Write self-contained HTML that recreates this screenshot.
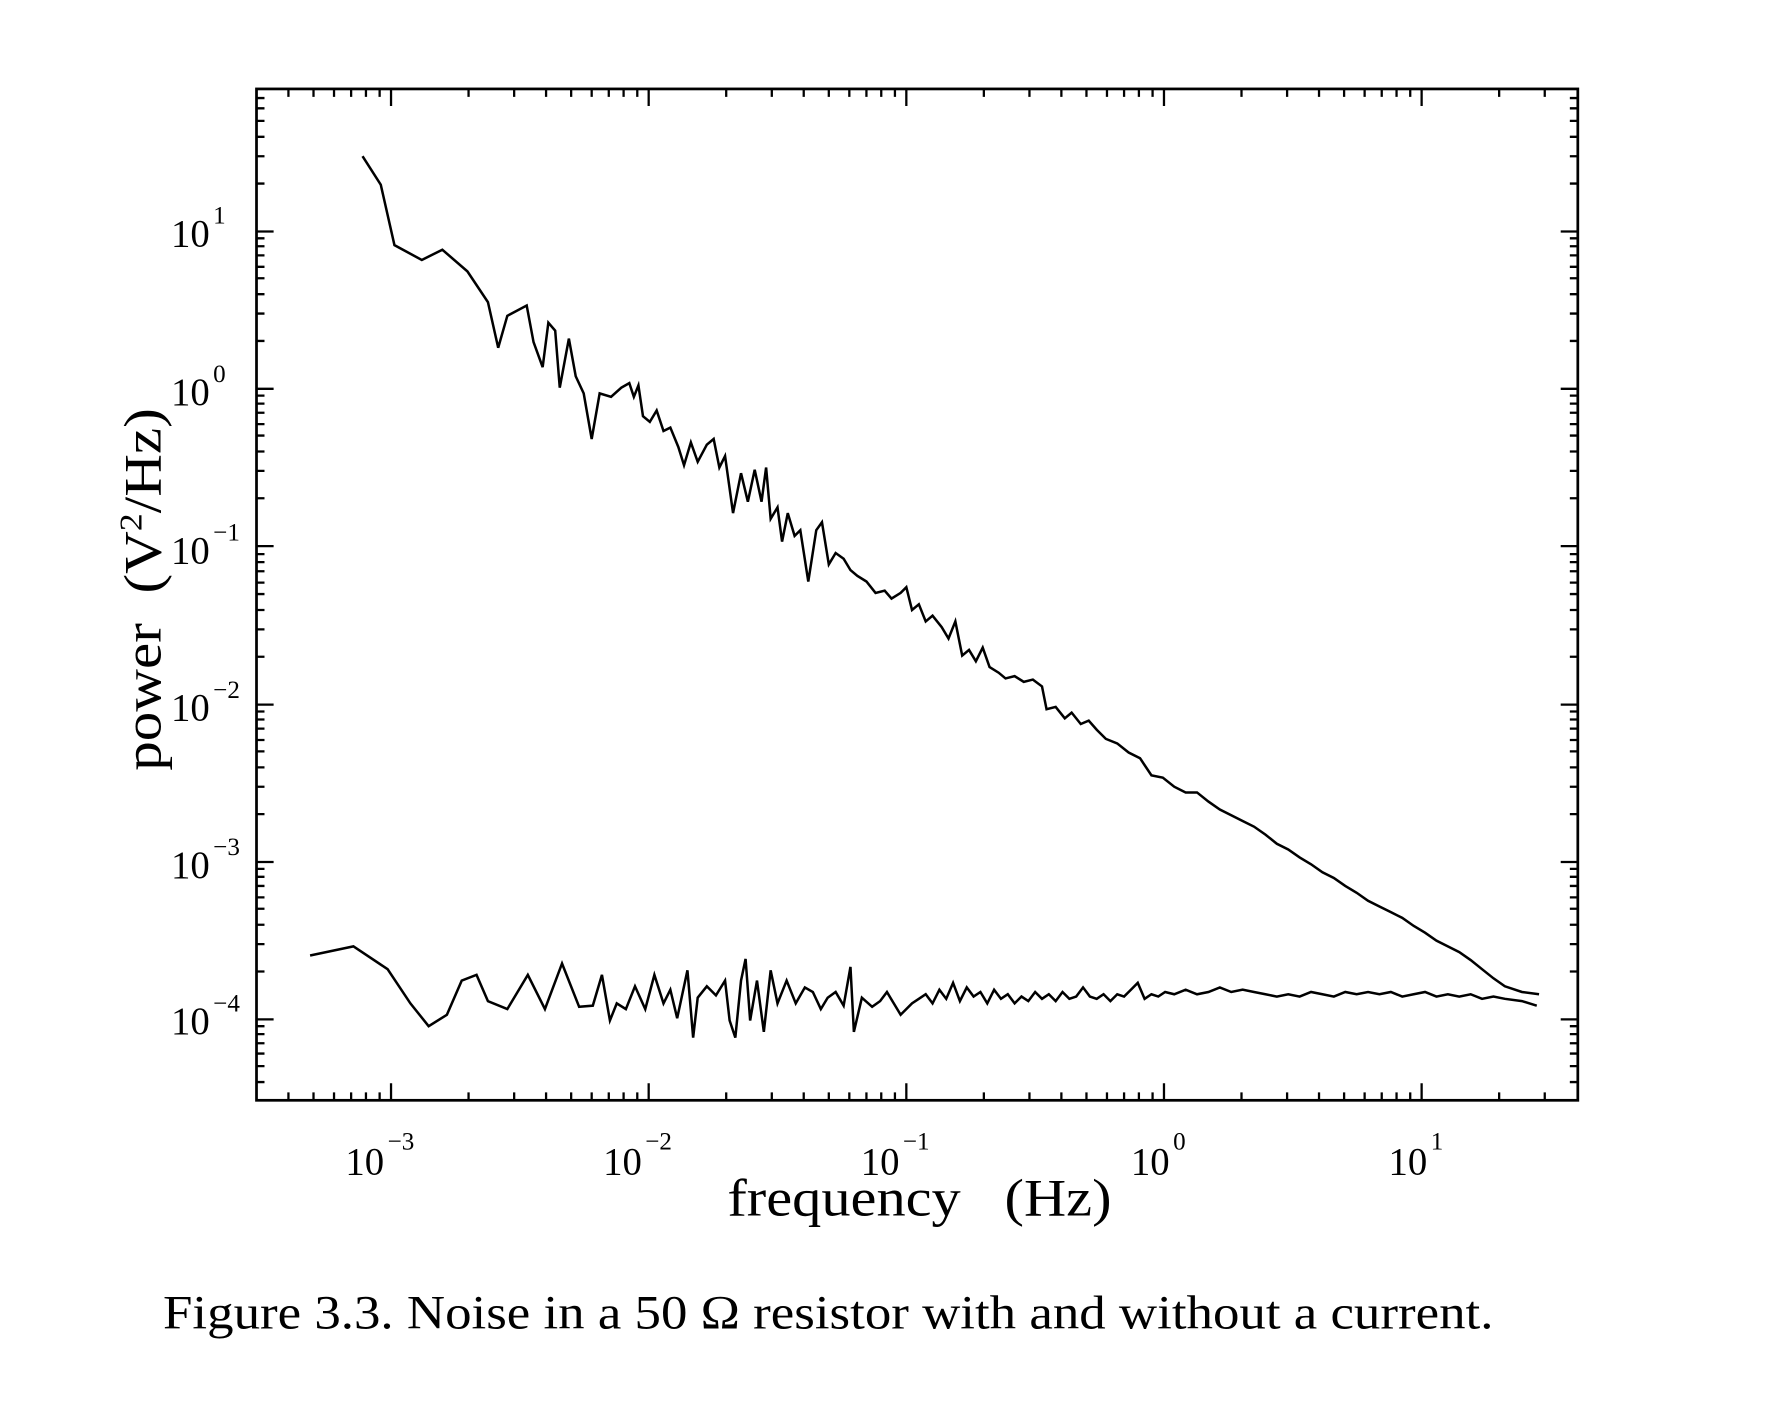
<!DOCTYPE html>
<html><head><meta charset="utf-8"><style>
html,body{margin:0;padding:0;background:#fff;}
svg{display:block;}
text{font-family:"Liberation Serif",serif;fill:#000;}
</style></head><body>
<svg width="1791" height="1415" viewBox="0 0 1571 1241" preserveAspectRatio="none" xmlns="http://www.w3.org/2000/svg">
<rect x="225" y="78" width="1159" height="887" fill="none" stroke="#000" stroke-width="2.4"/>
<g stroke="#000" stroke-width="2" fill="none">
<path d="M253 965v-7M275 965v-7M293 965v-7M308 965v-7M321 965v-7M333 965v-7M411 965v-7M451 965v-7M479 965v-7M501 965v-7M519 965v-7M534 965v-7M547 965v-7M559 965v-7M637 965v-7M677 965v-7M705 965v-7M727 965v-7M745 965v-7M760 965v-7M773 965v-7M785 965v-7M863 965v-7M903 965v-7M931 965v-7M953 965v-7M971 965v-7M986 965v-7M999 965v-7M1011 965v-7M1089 965v-7M1129 965v-7M1157 965v-7M1179 965v-7M1197 965v-7M1212 965v-7M1225 965v-7M1237 965v-7M1315 965v-7M1355 965v-7
M343 965v-15M569 965v-15M795 965v-15M1021 965v-15M1247 965v-15"/>
<path d="M253 78v7M275 78v7M293 78v7M308 78v7M321 78v7M333 78v7M411 78v7M451 78v7M479 78v7M501 78v7M519 78v7M534 78v7M547 78v7M559 78v7M637 78v7M677 78v7M705 78v7M727 78v7M745 78v7M760 78v7M773 78v7M785 78v7M863 78v7M903 78v7M931 78v7M953 78v7M971 78v7M986 78v7M999 78v7M1011 78v7M1089 78v7M1129 78v7M1157 78v7M1179 78v7M1197 78v7M1212 78v7M1225 78v7M1237 78v7M1315 78v7M1355 78v7
M343 78v15M569 78v15M795 78v15M1021 78v15M1247 78v15"/>
<path d="M225 949h7M225 935h7M225 924h7M225 915h7M225 907h7M225 900h7M225 852h7M225 828h7M225 811h7M225 797h7M225 787h7M225 777h7M225 769h7M225 762h7M225 714h7M225 690h7M225 673h7M225 659h7M225 649h7M225 639h7M225 631h7M225 624h7M225 576h7M225 552h7M225 535h7M225 521h7M225 511h7M225 501h7M225 493h7M225 486h7M225 437h7M225 413h7M225 396h7M225 382h7M225 372h7M225 362h7M225 354h7M225 347h7M225 299h7M225 275h7M225 258h7M225 244h7M225 234h7M225 224h7M225 216h7M225 209h7M225 161h7M225 137h7M225 120h7M225 106h7M225 95h7M225 86h7
M225 894h15M225 756h15M225 618h15M225 479h15M225 341h15M225 203h15"/>
<path d="M1384 949h-7M1384 935h-7M1384 924h-7M1384 915h-7M1384 907h-7M1384 900h-7M1384 852h-7M1384 828h-7M1384 811h-7M1384 797h-7M1384 787h-7M1384 777h-7M1384 769h-7M1384 762h-7M1384 714h-7M1384 690h-7M1384 673h-7M1384 659h-7M1384 649h-7M1384 639h-7M1384 631h-7M1384 624h-7M1384 576h-7M1384 552h-7M1384 535h-7M1384 521h-7M1384 511h-7M1384 501h-7M1384 493h-7M1384 486h-7M1384 437h-7M1384 413h-7M1384 396h-7M1384 382h-7M1384 372h-7M1384 362h-7M1384 354h-7M1384 347h-7M1384 299h-7M1384 275h-7M1384 258h-7M1384 244h-7M1384 234h-7M1384 224h-7M1384 216h-7M1384 209h-7M1384 161h-7M1384 137h-7M1384 120h-7M1384 106h-7M1384 95h-7M1384 86h-7
M1384 894h-15M1384 756h-15M1384 618h-15M1384 479h-15M1384 341h-15M1384 203h-15"/>
</g>
<g font-size="34">
<text x="303" y="1030">10</text><text x="340" y="1008" font-size="22">−3</text>
<text x="529" y="1030">10</text><text x="566" y="1008" font-size="22">−2</text>
<text x="755" y="1030">10</text><text x="792" y="1008" font-size="22">−1</text>
<text x="992" y="1030">10</text><text x="1029" y="1008" font-size="22">0</text>
<text x="1218" y="1030">10</text><text x="1255" y="1008" font-size="22">1</text>
<text x="150" y="216">10</text><text x="187" y="196" font-size="22">1</text>
<text x="150" y="355">10</text><text x="187" y="335" font-size="22">0</text>
<text x="150" y="494">10</text><text x="187" y="474" font-size="22">−1</text>
<text x="150" y="632">10</text><text x="187" y="612" font-size="22">−2</text>
<text x="150" y="770">10</text><text x="187" y="750" font-size="22">−3</text>
<text x="150" y="907">10</text><text x="187" y="887" font-size="22">−4</text>
</g>
<text x="638" y="1066" font-size="46" textLength="337" lengthAdjust="spacingAndGlyphs">frequency&#160;&#160;&#160;(Hz)</text>
<text transform="translate(141,676) rotate(-90)" font-size="46" textLength="318" lengthAdjust="spacingAndGlyphs">power&#160;&#160;(V<tspan font-size="28" dy="-17">2</tspan><tspan dy="17">/Hz)</tspan></text>
<text x="143" y="1165" font-size="42" textLength="1167" lengthAdjust="spacingAndGlyphs">Figure 3.3. Noise in a 50 Ω resistor with and without a current.</text>
<polyline fill="none" stroke="#000" stroke-width="2.2" points="318,137 334,162 346,215 370,228 388,219 410,238 428,265 437,305 445,277 462,268 468,300 476,322 481,283 487,290 491,340 499,297 505,330 512,345 519,385 526,345 536,348 545,340 552,336 556,348 560,338 564,365 570,370 576,360 582,378 588,375 595,392 600,408 606,388 612,405 620,390 626,385 631,410 636,400 643,450 650,415 656,440 662,412 668,440 672,410 676,455 682,445 686,475 691,450 697,470 702,465 709,510 716,465 721,458 727,495 733,485 740,490 746,500 752,505 760,510 768,520 776,518 782,525 790,520 795,515 800,535 806,530 812,545 818,540 826,550 832,560 838,545 844,575 850,570 856,580 862,568 868,585 876,590 882,595 890,593 898,598 906,596 914,602 918,622 926,620 934,630 940,625 948,635 955,632 962,640 970,648 980,652 990,660 1000,665 1010,680 1020,682 1030,690 1040,695 1050,695 1060,703 1070,710 1080,715 1090,720 1100,725 1110,732 1120,740 1130,745 1140,752 1150,758 1160,765 1170,770 1180,777 1190,783 1200,790 1210,795 1220,800 1230,805 1240,812 1250,818 1260,825 1270,830 1280,835 1290,842 1300,850 1310,858 1320,865 1335,870 1350,872"/>
<polyline fill="none" stroke="#000" stroke-width="2.2" points="272,838 310,830 340,850 360,880 376,900 392,890 405,860 418,855 428,878 445,885 463,855 478,885 493,845 508,883 520,882 528,855 535,895 541,880 549,885 557,865 566,885 574,855 582,880 588,868 594,893 603,851 608,910 612,875 620,865 628,873 636,860 640,895 645,910 650,860 654,841 658,895 664,860 670,905 676,851 682,880 690,860 698,880 706,866 713,870 720,885 726,875 733,870 740,882 746,848 749,905 756,875 765,883 772,878 778,870 784,880 790,890 800,880 806,876 812,872 818,880 824,868 830,876 836,862 842,878 848,866 854,874 860,870 866,880 872,868 878,876 884,872 890,880 896,874 902,878 908,870 914,876 920,872 926,878 932,870 938,876 944,874 950,866 956,874 962,876 968,872 974,878 980,872 986,874 992,868 998,862 1004,876 1010,872 1016,874 1022,870 1030,872 1040,868 1050,872 1060,870 1070,866 1080,870 1090,868 1100,870 1110,872 1120,874 1130,872 1140,874 1150,870 1160,872 1170,874 1180,870 1190,872 1200,870 1210,872 1220,870 1230,874 1240,872 1250,870 1260,874 1270,872 1280,874 1290,872 1300,876 1310,874 1320,876 1335,878 1348,882"/>
</svg>
</body></html>
